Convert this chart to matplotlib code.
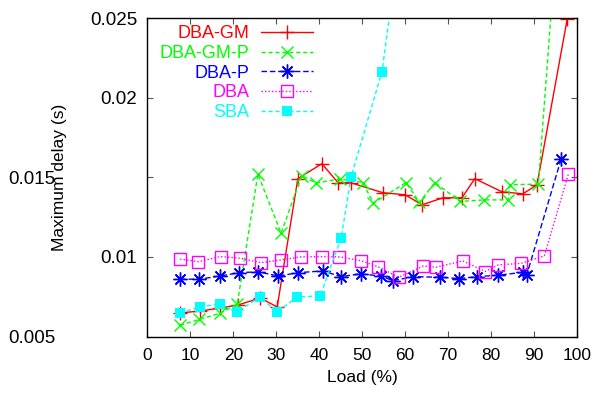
import matplotlib
matplotlib.use("Agg")
import matplotlib.pyplot as plt

plt.rcParams['font.family'] = ['Liberation Sans', 'DejaVu Sans']

# load (%) and maximum delay (s) per scheme
dba_gm_load = [7.6, 12.2, 16.9, 21.1, 26.2, 30.2, 35.0, 40.6, 44.4, 47.4,
               54.8, 60.0, 63.9, 68.8, 73.2, 76.2, 82.5, 87.4, 90.7, 97.7]
dba_gm_delay = [0.00648, 0.00660, 0.00679, 0.00698, 0.00742, 0.00686, 0.01491, 0.01585, 0.01465, 0.01465,
                0.01403, 0.01390, 0.01327, 0.01371, 0.01371, 0.01491, 0.01409, 0.01396, 0.01453, 0.02491]

dba_gm_p_load = [7.6, 12.1, 16.9, 20.9, 25.7, 31.1, 35.9, 39.2, 44.8, 50.1,
                 52.6, 60.2, 63.3, 66.9, 72.8, 78.4, 84.0, 84.4, 91.0, 94.9]
dba_gm_p_delay = [0.00570, 0.00608, 0.00646, 0.00704, 0.01520, 0.01149, 0.01510, 0.01464, 0.01489, 0.01467,
                  0.01338, 0.01467, 0.01342, 0.01467, 0.01348, 0.01358, 0.01358, 0.01453, 0.01457, 0.02870]

dba_p_load = [7.6, 12.1, 16.9, 21.4, 25.8, 30.5, 35.1, 40.9, 45.0, 49.6,
              54.3, 57.2, 61.9, 68.1, 72.6, 76.8, 81.7, 87.4, 88.3, 96.3]
dba_p_delay = [0.00860, 0.00860, 0.00880, 0.00901, 0.00906, 0.00880, 0.00901, 0.00912, 0.00876, 0.00893,
               0.00880, 0.00851, 0.00876, 0.00872, 0.00864, 0.00876, 0.00885, 0.00903, 0.00887, 0.01614]

dba_load = [7.6, 11.8, 17.0, 21.5, 26.4, 31.1, 35.7, 40.6, 44.7, 49.6,
            53.6, 58.5, 64.2, 67.2, 73.4, 78.6, 81.7, 86.9, 92.4, 98.0]
dba_delay = [0.00986, 0.00970, 0.01002, 0.00992, 0.00964, 0.00981, 0.01000, 0.01002, 0.01000, 0.00977,
             0.00939, 0.00872, 0.00943, 0.00935, 0.00975, 0.00908, 0.00950, 0.00959, 0.01006, 0.01521]

sba_load = [7.6, 12.2, 16.9, 20.8, 26.2, 30.2, 34.8, 40.2, 45.1, 47.4, 54.6, 59.8]
sba_delay = [0.00648, 0.00686, 0.00704, 0.00654, 0.00748, 0.00654, 0.00748, 0.00755, 0.01120, 0.01503, 0.02164, 0.03200]

y_ticks = [0.005, 0.01, 0.015, 0.02, 0.025]
y_tick_labels = ['0.005', '0.01', '0.015', '0.02', '0.025']
x_ticks = [0, 10, 20, 30, 40, 50, 60, 70, 80, 90, 100]


def plot_delays():
    fig = plt.figure(figsize=(5.94, 3.94), dpi=100)
    ax = fig.add_axes([0.2483, 0.1459, 0.7231, 0.8084])

    ax.plot(dba_gm_load, dba_gm_delay, color='#ff0000', lw=1, marker='+', ms=10, mew=1,
            label='DBA-GM')
    ax.plot(dba_gm_p_load, dba_gm_p_delay, color='#00ff00', lw=1, dashes=(3, 2), marker='x', ms=8, mew=1,
            label='DBA-GM-P')
    ax.plot(dba_p_load, dba_p_delay, color='#0000ff', lw=1, dashes=(4, 2), marker=(8, 2, 0), ms=10, mew=1,
            label='DBA-P')
    ax.plot(dba_load, dba_delay, color='#ff00ff', lw=1, dashes=(1, 1.5), marker='s', ms=8, mew=1,
            mfc='none', label='DBA')
    ax.plot(sba_load, sba_delay, color='#00ffff', lw=1, dashes=(3, 2), marker='s', ms=7, mew=0,
            label='SBA')

    ax.set_xlim(0, 100)
    ax.set_ylim(0.005, 0.025)
    ax.set_xticks(x_ticks)
    ax.set_yticks(y_ticks)
    ax.set_yticklabels(y_tick_labels)
    ax.tick_params(direction='in', length=4.5, width=0.8, top=True, right=True, color='#555555')
    ax.tick_params(axis='x', pad=8, labelsize=12.5)
    ax.tick_params(axis='y', pad=7.5, labelsize=13.5)
    # gnuplot put the 0.005 and 0.015 labels far to the left
    ticks = ax.yaxis.get_major_ticks()
    ticks[0].set_pad(66)
    ticks[2].set_pad(66)
    for s in ax.spines.values():
        s.set_linewidth(1)

    ax.set_xlabel('Load (%)', fontsize=12.5, labelpad=5)
    ax.set_ylabel('Maximum delay (s)', fontsize=12.5)
    ax.yaxis.set_label_coords(-0.187, 0.5)

    leg = ax.legend(loc='upper right', bbox_to_anchor=(0.385, 0.977), frameon=False,
                    markerfirst=False, fontsize=13, handlelength=2.85, handletextpad=0.65,
                    labelspacing=0.15, borderpad=0, borderaxespad=0)
    for col in leg._legend_box._children[1]._children:
        col.align = 'right'
    for text, line in zip(leg.get_texts(), leg.get_lines()):
        text.set_color(line.get_color())

    fig.savefig('out.png', dpi=100)


if __name__ == "__main__":
    plot_delays()
